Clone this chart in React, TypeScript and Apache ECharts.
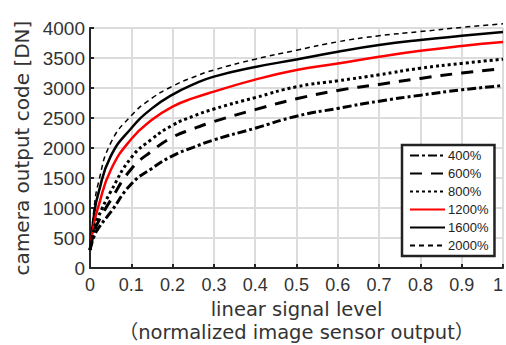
import React, { useEffect, useRef } from "react";
import * as echarts from "echarts";

const xLevels = [0, 0.01, 0.02, 0.05, 0.1, 0.15, 0.2, 0.25, 0.3, 0.4, 0.5, 0.6, 0.7, 0.8, 0.9, 1.0];
const s400 = [300, 530, 660, 930, 1400, 1660, 1870, 2010, 2135, 2330, 2530, 2660, 2780, 2880, 2970, 3040];
const s600 = [300, 600, 770, 1130, 1650, 1950, 2180, 2320, 2440, 2640, 2820, 2960, 3060, 3160, 3250, 3320];
const s800 = [300, 650, 850, 1270, 1840, 2150, 2380, 2530, 2650, 2840, 3020, 3120, 3220, 3330, 3410, 3480];
const s1200 = [300, 750, 1020, 1630, 2150, 2470, 2690, 2830, 2940, 3140, 3300, 3410, 3520, 3620, 3700, 3765];
const s1600 = [300, 900, 1240, 1860, 2330, 2660, 2890, 3060, 3190, 3350, 3475, 3605, 3715, 3800, 3870, 3935];
const s2000 = [300, 1000, 1410, 2080, 2540, 2830, 3030, 3180, 3300, 3480, 3630, 3770, 3870, 3940, 4010, 4070];
const seriesNames = ["400%", "600%", "800%", "1200%", "1600%", "2000%"];
const xTicks = ["0", "0.1", "0.2", "0.3", "0.4", "0.5", "0.6", "0.7", "0.8", "0.9", "1"];
const xTitleLines = ["linear signal level", "（normalized image sensor output）"];
const yTitle = "camera output code [DN]";

const FONT = "Liberation Sans, Arial, sans-serif";
const TITLE_FONT = "DejaVu Sans, Noto Sans CJK JP, sans-serif";

export default function App() {
  const ref = useRef<HTMLDivElement>(null);
  useEffect(() => {
    if (!ref.current) return;
    const chart = echarts.init(ref.current, undefined, { renderer: "svg" });
    const all = [s400, s600, s800, s1200, s1600, s2000];
    const styles = [
      { color: "#000", width: 3, type: [9, 3, 3, 3] },
      { color: "#000", width: 3, type: [12, 9] },
      { color: "#000", width: 3, type: [3, 3] },
      { color: "#ff0000", width: 2.5, type: "solid" },
      { color: "#000", width: 2.5, type: "solid" },
      { color: "#000", width: 1.5, type: [5, 4] },
    ];
    chart.setOption({
      animation: false,
      grid: { left: 90, right: 3, top: 28, bottom: 77, outerBoundsMode: "none" },
      graphic: xTitleLines.map((t, i) => ({
        type: "text",
        x: 296.5,
        y: i === 0 ? 309 : 332,
        style: {
          text: t,
          align: "center",
          verticalAlign: "middle",
          fontSize: 19.5,
          fontFamily: TITLE_FONT,
          fill: "#333",
        },
      })),
      legend: {
        orient: "vertical",
        left: 402,
        top: 145,
        padding: [4, 6, 4, 7],
        itemWidth: 35,
        itemHeight: 12,
        itemGap: 5,
        borderColor: "#222",
        borderWidth: 2.5,
        backgroundColor: "#fff",
        itemStyle: { opacity: 0 },
        textStyle: { fontSize: 13, color: "#222", fontFamily: FONT, padding: [0, 0, 0, -2] },
        data: seriesNames,
      },
      xAxis: {
        type: "value",
        min: 0,
        max: 1,
        interval: 0.1,
        axisLine: { show: true, lineStyle: { color: "#262626", width: 2 } },
        axisTick: { show: true, inside: true, length: 4, lineStyle: { color: "#262626", width: 2 } },
        axisLabel: {
          fontSize: 18,
          color: "#333",
          fontFamily: FONT,
          margin: 8,
          alignMaxLabel: "right",
          formatter: (v: number) => xTicks[Math.round(v * 10)],
        },
        splitLine: { show: true, lineStyle: { color: "#dcdcdc", width: 2 } },
      },
      yAxis: {
        type: "value",
        min: 0,
        max: 4000,
        interval: 500,
        name: yTitle,
        nameLocation: "middle",
        nameGap: 58,
        nameMoveOverlap: false,
        nameTextStyle: { fontSize: 20, color: "#333", fontFamily: TITLE_FONT },
        axisLine: { show: true, lineStyle: { color: "#262626", width: 2 } },
        axisTick: { show: true, inside: true, length: 4, lineStyle: { color: "#262626", width: 2 } },
        axisLabel: {
          fontSize: 19,
          color: "#333",
          fontFamily: FONT,
          margin: 5,
          formatter: (v: number) => String(v),
        },
        splitLine: { show: true, lineStyle: { color: "#dcdcdc", width: 2 } },
      },
      series: seriesNames.map((name, i) => ({
        name,
        type: "line",
        showSymbol: false,
        symbol: "none",
        smooth: 0.5,
        clip: false,
        z: 10 - i,
        lineStyle: styles[i],
        itemStyle: { color: styles[i].color },
        data: xLevels.map((x, j) => [x, all[i][j]]),
      })),
    });
    return () => chart.dispose();
  }, []);
  return <div ref={ref} style={{ width: 506, height: 345, position: "absolute", left: 0, top: 0 }} />;
}
